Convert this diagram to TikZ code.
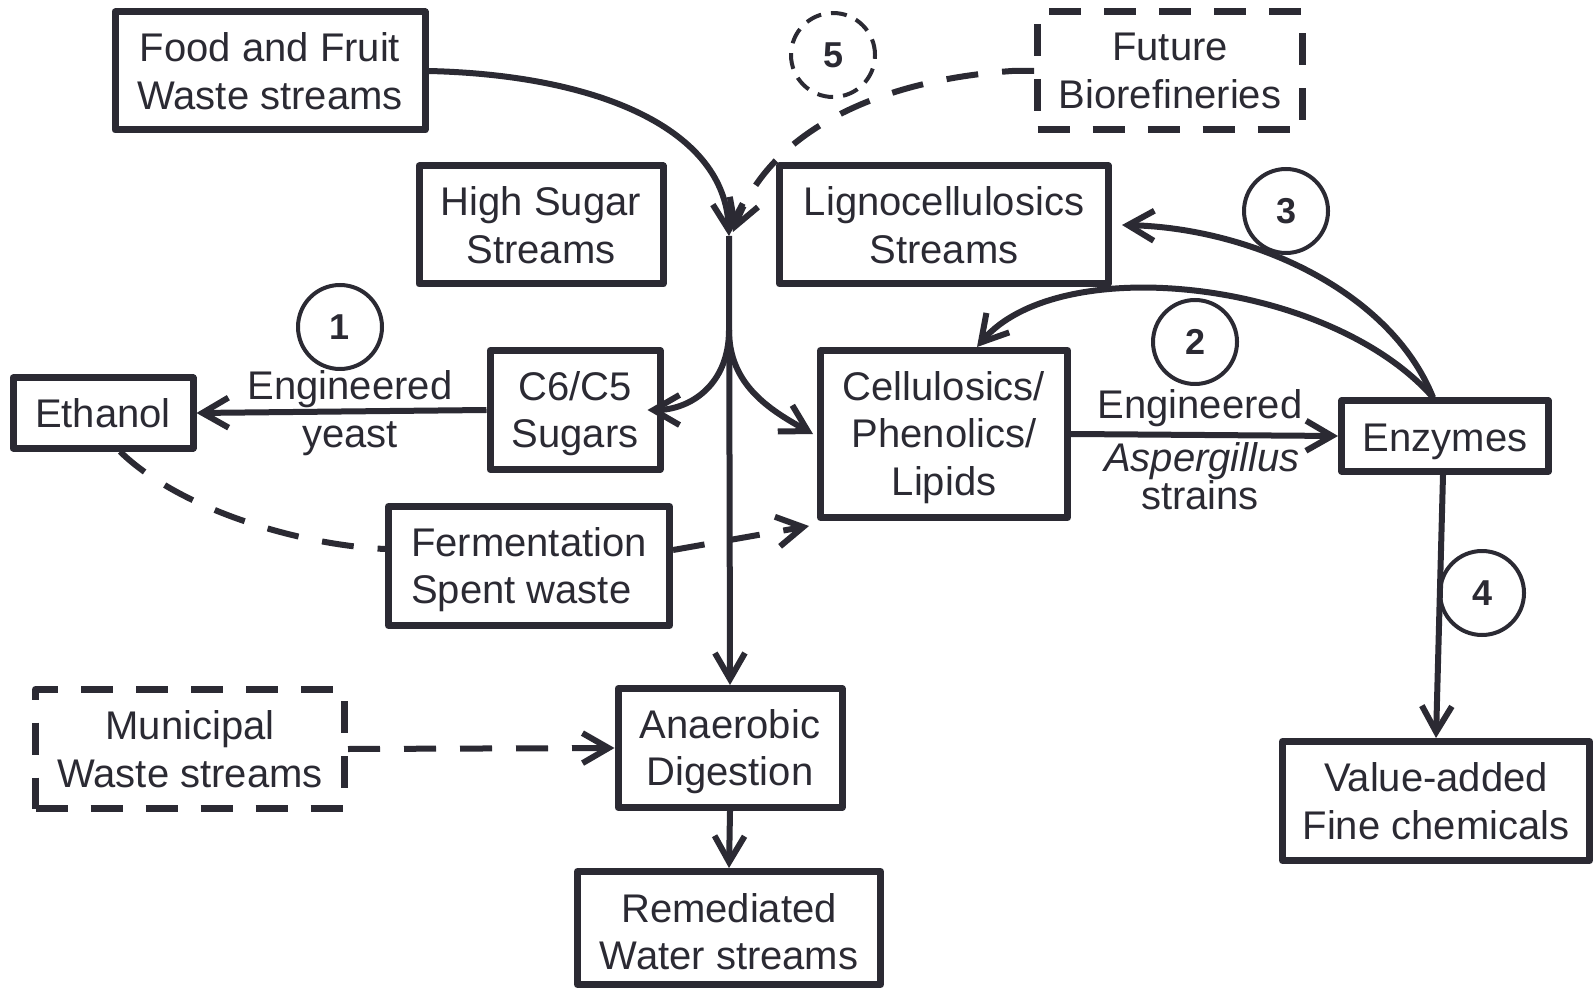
\documentclass[tikz,border=0pt]{standalone}
\usepackage{fontspec}
\setmainfont{Liberation Sans}
\usetikzlibrary{arrows.meta}
\definecolor{ink}{RGB}{43,42,51}
\newcommand{\lowstrut}{\rule{0pt}{18pt}}
\begin{document}
\begin{tikzpicture}[x=0.5pt,y=-0.5pt,line join=round,
  every node/.style={font=\fontsize{20}{23.75}\selectfont, text=ink},
  box/.style={draw=ink, line width=3.5pt, align=center, inner sep=0pt},
  dbox/.style={box, dash pattern=on 16pt off 11.5pt},
  num/.style={draw=ink, circle, line width=2pt, minimum size=42pt, inner sep=0pt, font=\fontsize{18}{20}\bfseries\selectfont},
  dnum/.style={num, dash pattern=on 8pt off 5pt},
  conn/.style={draw=ink, line width=3pt, -{Straight Barb[length=13pt,width=15pt,line width=3pt]}},
  dconn/.style={conn, dash pattern=on 16pt off 12pt},
  dline/.style={draw=ink, line width=3pt, dash pattern=on 16pt off 12pt},
  lbl/.style={anchor=base, inner sep=0pt}]
\useasboundingbox (0,0) rectangle (1593,988);

% boxes
\node[box, minimum width=155pt, minimum height=59pt] (food) at (270,71) {Food and Fruit\\Waste streams};
\node[box, minimum width=122pt, minimum height=59pt] (high) at (541,225) {High Sugar\\Streams};
\node[box, minimum width=164.5pt, minimum height=59pt] (lig) at (944,225) {Lignocellulosics\\Streams};
\node[dbox, minimum width=132.5pt, minimum height=59pt] (fut) at (1170,71) {Future\\Biorefineries};
\node[box, minimum width=90pt, minimum height=35pt] (eth) at (103,413) {Ethanol};
\node[box, minimum width=85pt, minimum height=59.5pt] (c6) at (575,410) {\lowstrut C6/C5\\Sugars};
\node[box, minimum width=123.5pt, minimum height=83.5pt] (cel) at (944,434) {\lowstrut Cellulosics/\\Phenolics/\\Lipids};
\node[box, text height=20pt, minimum width=103.5pt, minimum height=35pt] (enz) at (1445,436) {Enzymes};
\node[box, align=left, minimum width=140.5pt, minimum height=59.5pt] (fer) at (529,566) {\lowstrut Fermentation\\Spent waste};
\node[dbox, minimum width=154.5pt, minimum height=59.5pt] (mun) at (190,749) {Municipal\\Waste streams};
\node[box, minimum width=112pt, minimum height=59.5pt] (anae) at (730,748) {\lowstrut Anaerobic\\Digestion};
\node[box, minimum width=151.5pt, minimum height=56.5pt] (rem) at (729,928) {\lowstrut Remediated\\Water streams};
\node[box, minimum width=153.5pt, minimum height=59.5pt] (val) at (1436,801) {Value-added\\Fine chemicals};

% numbered circles
\node[num] (n1) at (340,327) {1};
\node[num] (n2) at (1195,342) {2};
\node[num] (n3) at (1286,211) {3};
\node[num] (n4) at (1482,593) {4};
\node[dnum] (n5) at (833,55) {5};

% junction coordinates
\coordinate (tip) at (729,236);
\coordinate (split) at (729,330);
\coordinate (dtip) at (733,232);

% connectors
\draw[conn] (food.east) .. controls (600,75) and (725,130) .. (tip);
\draw[dconn] (fut.west) -- ++(-22,0) .. controls (880,80) and (770,130) .. (dtip);
\draw[conn] (tip) -- (anae.north);
\draw[conn] (split) .. controls (729,385) and (690,410) .. ([xshift=-8pt]c6.east);
\draw[conn] (split) .. controls (729,385) and (770,410) .. ([xshift=-2pt]cel.west);
\draw[conn] (c6.west) -- (eth.east);
\draw[dline] ([xshift=8.5pt]eth.south) .. controls (180,510) and (300,545) .. ([yshift=8.5pt]fer.west);
\draw[dconn] ([yshift=8pt]fer.east) -- ([shift={(-4pt,-2.5pt)}]cel.south west);
\draw[conn] (cel.east) -- (enz.west);
\draw[conn] ([xshift=-6pt]enz.north) .. controls (1390,290) and (1250,228) .. ([xshift=5pt]lig.east);
\draw[conn] ([xshift=-6pt]enz.north) .. controls (1330,280) and (1060,250) .. ([xshift=16.5pt]cel.north);
\draw[conn] ([xshift=-1pt]enz.south) -- (val.north);
\draw[dconn] (mun.east) -- (anae.west);
\draw[conn] (anae.south) -- (rem.north);

% labels
\node[lbl] (l1a) at (350,400) {Engineered};
\node[lbl] (l1b) at (350,447) {yeast};
\node[lbl] (l2a) at (1200,419) {Engineered};
\node[lbl] (l2b) at (1202,472) {\itshape Aspergillus};
\node[lbl] (l2c) at (1200,509) {strains};
\end{tikzpicture}
\end{document}
